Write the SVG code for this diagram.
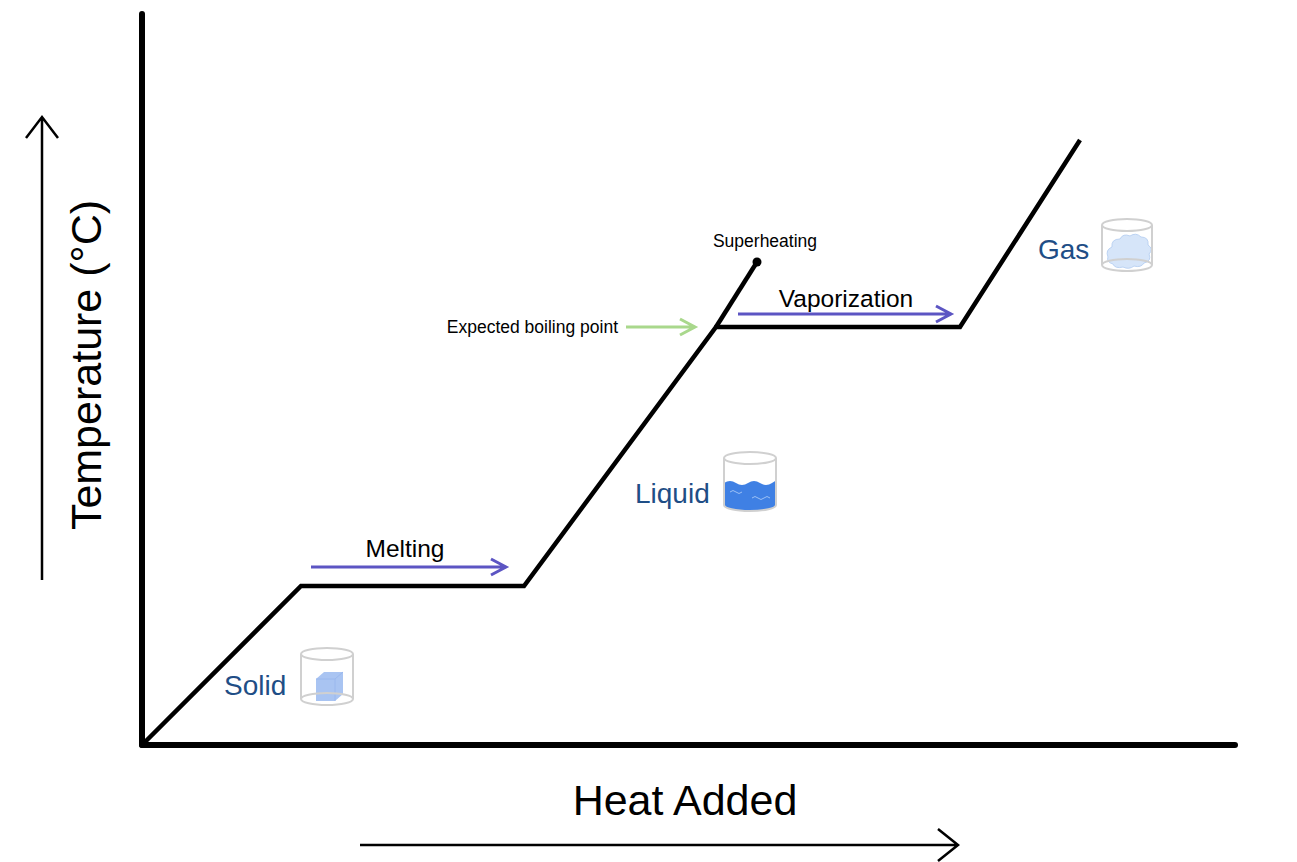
<svg xmlns="http://www.w3.org/2000/svg" width="1297" height="862" viewBox="0 0 1297 862">
<defs>
<style>
.axis{stroke:#000;stroke-width:6;stroke-linecap:round;fill:none}
.curve{stroke:#000;stroke-width:4.5;fill:none;stroke-linejoin:miter}
.thin{stroke:#000;stroke-width:2.5;fill:none}
.purple{stroke:#5c55c3;stroke-width:3;fill:none}
.green{stroke:#a9d88c;stroke-width:3;fill:none}
.lbl{font-family:"Helvetica","Liberation Sans",Arial,sans-serif;fill:#000}
.state{font-family:"Helvetica","Liberation Sans",Arial,sans-serif;fill:#1f4e86;font-size:28px}
.glass{stroke:#d0d0d0;stroke-width:2;fill:none}
</style>
</defs>
<rect width="1297" height="862" fill="#fff"/>
<g id="axes">
<line class="axis" x1="142" y1="14" x2="142" y2="745"/>
<line class="axis" x1="142" y1="745" x2="1235" y2="745"/>
<path class="thin" d="M42 580 V117 M26 138 L42 117 L58 138"/>
<path class="thin" d="M360 845 H958 M938 829 L958 845 L938 861"/>
<text class="lbl" font-size="43" transform="translate(101 365) rotate(-90)" text-anchor="middle">Temperature (°C)</text>
<text class="lbl" font-size="43" x="685" y="815" text-anchor="middle">Heat Added</text>
</g>
<g id="connectors">
<path class="curve" d="M142 745 L301 586 H524 L716 327 H960 L1080 140"/>
<line class="curve" x1="716" y1="327" x2="757" y2="262"/>
<circle cx="757" cy="262" r="4.5" fill="#000"/>
<path class="purple" d="M311 567 H506 M491 559 L506 567 L491 575"/>
<path class="purple" d="M738 314 H951 M936 306 L951 314 L936 322"/>
<path class="green" d="M626 327 H695 M680 319 L695 327 L680 335"/>
</g>
<g id="melting"><text class="lbl" font-size="24.5" x="405" y="557" text-anchor="middle">Melting</text></g>
<g id="vaporization"><text class="lbl" font-size="24.5" x="846" y="307" text-anchor="middle">Vaporization</text></g>
<g id="boiling"><text class="lbl" font-size="17.5" x="618" y="333" text-anchor="end">Expected boiling point</text></g>
<g id="superheating"><text class="lbl" font-size="17.5" x="765" y="247" text-anchor="middle">Superheating</text></g>
<g id="solid">
<text class="state" x="224" y="695">Solid</text>
<path d="M316 679 L324 672 H343 V694 L335 701 H316 Z" fill="#a9c4f2"/>
<path d="M316 679 H335 V701 M335 679 L343 672" stroke="#9ab8ee" stroke-width="1" fill="none"/>
<ellipse class="glass" cx="327" cy="654" rx="26" ry="6"/>
<path class="glass" d="M301 654 V699 A26 6 0 0 0 353 699 V654"/>
<path class="glass" d="M301 699 A26 6 0 0 1 353 699"/>
</g>
<g id="liquid">
<text class="state" x="635" y="503">Liquid</text>
<path d="M724 483 q6 -4 12 0 t12 0 t12 0 t12 0 t4 -1 V505 A26 6 0 0 1 724 505 Z" fill="#3f80e4"/>
<path d="M730 492 q3 -3 6 0 t6 0 M752 498 q3 -3 6 0 t6 0 t6 0" stroke="#9cc0f5" stroke-width="1" fill="none"/>
<ellipse class="glass" cx="750" cy="458" rx="26" ry="6"/>
<path class="glass" d="M724 458 V505 A26 6 0 0 0 776 505 V458"/>
</g>
<g id="gas">
<text class="state" x="1038" y="259">Gas</text>
<path d="M1108 257 q-3 -7 4 -10 q-1 -8 8 -8 q3 -6 10 -3 q6 -4 11 1 q8 0 7 8 q6 4 1 9 q3 7 -5 9 q-3 5 -10 3 q-5 4 -11 1 q-8 2 -10 -3 q-7 -2 -5 -7 Z" fill="#d6e5f9" stroke="#bcd3f3" stroke-width="1"/>
<ellipse class="glass" cx="1127" cy="225" rx="25" ry="6"/>
<path class="glass" d="M1102 225 V265 A25 6 0 0 0 1152 265 V225"/>
<path class="glass" d="M1102 265 A25 6 0 0 1 1152 265"/>
</g>
</svg>
